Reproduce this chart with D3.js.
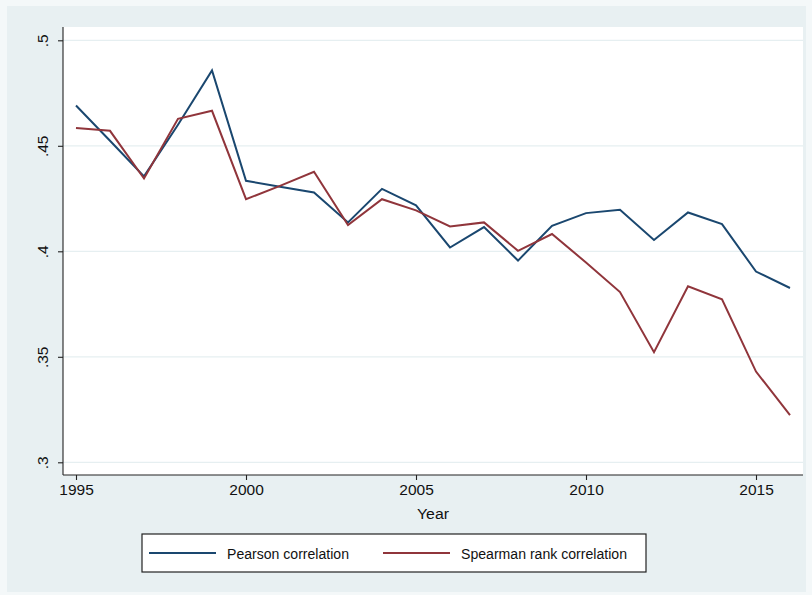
<!DOCTYPE html>
<html>
<head>
<meta charset="utf-8">
<script src="https://cdn.jsdelivr.net/npm/d3@7"></script>
<style>
  html, body { margin: 0; padding: 0; background: #f4f8f9; }
  svg { display: block; font-family: "Liberation Sans", Arial, Helvetica, sans-serif; }
</style>
</head>
<body>
<svg id="chart" width="812" height="595"></svg>
<script>
// Yearly correlation coefficients
const years = [1995, 1996, 1997, 1998, 1999, 2000, 2001, 2002, 2003, 2004, 2005,
               2006, 2007, 2008, 2009, 2010, 2011, 2012, 2013, 2014, 2015, 2016];
const pearson = [0.4691, 0.4524, 0.4355, 0.4600, 0.4857, 0.4334, 0.4306, 0.4279, 0.4137, 0.4296, 0.4218,
                 0.4018, 0.4115, 0.3956, 0.4121, 0.4181, 0.4197, 0.4054, 0.4184, 0.4129, 0.3904, 0.3826];
const spearman = [0.4584, 0.4571, 0.4345, 0.4628, 0.4666, 0.4247, 0.4310, 0.4377, 0.4124, 0.4247, 0.4194,
                  0.4118, 0.4137, 0.4002, 0.4082, 0.3947, 0.3807, 0.3522, 0.3834, 0.3772, 0.3430, 0.3224];
const xTicks = [1995, 2000, 2005, 2010, 2015];
const yTicks = [0.3, 0.35, 0.4, 0.45, 0.5];
const yTickLabels = [".3", ".35", ".4", ".45", ".5"];
const seriesNames = ["Pearson correlation", "Spearman rank correlation"];

const svg = d3.select("#chart");
const bg = "#e8f0f2";
const colors = ["#1a476f", "#90353b"];

// graph region
svg.append("rect").attr("x", 7).attr("y", 6).attr("width", 799).attr("height", 586).attr("fill", bg);

// plot region
const plot = { left: 63, right: 803, top: 27, bottom: 475 };
svg.append("rect")
  .attr("x", plot.left).attr("y", plot.top)
  .attr("width", plot.right - plot.left).attr("height", plot.bottom - plot.top)
  .attr("fill", "#ffffff");

const x = d3.scaleLinear().domain([1995, 2015]).range([76, 756]);
const y = d3.scaleLinear().domain([0.3, 0.5]).range([462.3, 40.3]);

// horizontal grid lines
svg.append("g").selectAll("line").data(yTicks).join("line")
  .attr("x1", plot.left).attr("x2", plot.right)
  .attr("y1", d => y(d)).attr("y2", d => y(d))
  .attr("stroke", "#e6eff1").attr("stroke-width", 1.2);

// y axis
const yAxis = d3.axisLeft(y).tickValues(yTicks)
  .tickFormat((d, i) => yTickLabels[i]).tickSize(5).tickSizeOuter(0);
const gy = svg.append("g").attr("transform", `translate(${plot.left},0)`).call(yAxis);
gy.select(".domain").remove();
gy.append("line").attr("x1", 0).attr("x2", 0).attr("y1", plot.top).attr("y2", plot.bottom)
  .attr("stroke", "#222").attr("stroke-width", 1.1);
gy.selectAll(".tick line").attr("stroke", "#222").attr("stroke-width", 1.1);
gy.selectAll(".tick text")
  .attr("fill", "#111").attr("font-size", 15.5)
  .attr("text-anchor", "middle").attr("dy", 0).attr("x", 0)
  .attr("transform", "translate(-15.5,0) rotate(-90)");

// x axis
const xAxis = d3.axisBottom(x).tickValues(xTicks).tickFormat(d3.format("d"))
  .tickSize(5).tickSizeOuter(0);
const gx = svg.append("g").attr("transform", `translate(0,${plot.bottom})`).call(xAxis);
gx.select(".domain").remove();
gx.append("line").attr("x1", plot.left).attr("x2", plot.right).attr("y1", 0).attr("y2", 0)
  .attr("stroke", "#222").attr("stroke-width", 1.1);
gx.selectAll(".tick line").attr("stroke", "#222").attr("stroke-width", 1.1);
gx.selectAll(".tick text").attr("fill", "#111").attr("font-size", 15.5).attr("y", 9).attr("dy", "0.71em");

svg.append("text").attr("x", (plot.left + plot.right) / 2).attr("y", 519)
  .attr("text-anchor", "middle").attr("font-size", 15.5).attr("fill", "#111")
  .attr("textLength", 32).attr("lengthAdjust", "spacingAndGlyphs").text("Year");

// series lines
const line = d3.line().x((d, i) => x(years[i])).y(d => y(d));
[pearson, spearman].forEach((s, k) => {
  svg.append("path").datum(s).attr("d", line)
    .attr("fill", "none").attr("stroke", colors[k]).attr("stroke-width", 2)
    .attr("stroke-linejoin", "miter");
});

// legend
const lg = svg.append("g");
lg.append("rect").attr("x", 142).attr("y", 534).attr("width", 504).attr("height", 38)
  .attr("fill", "#ffffff").attr("stroke", "#222").attr("stroke-width", 1.2);
const legendItems = [
  { x1: 149, x2: 216, tx: 227, len: 122 },
  { x1: 383, x2: 450, tx: 461, len: 166 }
];
legendItems.forEach((it, k) => {
  lg.append("line").attr("x1", it.x1).attr("x2", it.x2).attr("y1", 553).attr("y2", 553)
    .attr("stroke", colors[k]).attr("stroke-width", 2);
  lg.append("text").attr("x", it.tx).attr("y", 558.5).attr("font-size", 15.5)
    .attr("textLength", it.len).attr("lengthAdjust", "spacingAndGlyphs")
    .attr("fill", "#111").text(seriesNames[k]);
});
</script>
</body>
</html>
